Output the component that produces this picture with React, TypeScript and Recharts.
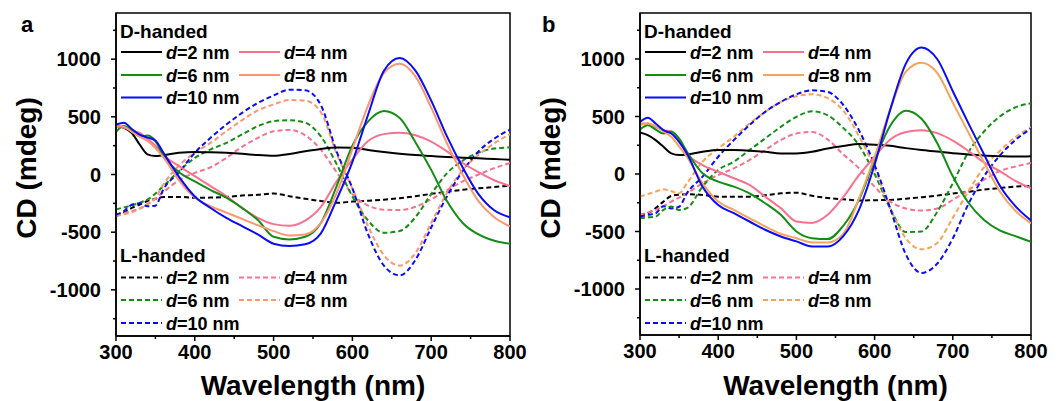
import React from 'react';
import { LineChart, Line, XAxis, YAxis, ReferenceArea } from 'recharts';

const FONT = "'Liberation Sans', Arial, Helvetica, sans-serif";

// wavelengths (nm)
const WAVELENGTHS = [300, 310, 320, 330, 340, 350, 360, 380, 400, 420, 440, 460, 480, 500, 520, 540, 560, 580, 600, 620, 640, 660, 680, 700, 720, 740, 760, 780, 800];

// Panel a, D-handed (solid)
const A_D2 = [420, 405, 360, 260, 175, 160, 167, 188, 196, 193, 188, 180, 168, 162, 178, 202, 222, 235, 232, 212, 195, 180, 168, 160, 152, 146, 140, 134, 128];
const A_D4 = [419, 405, 380, 360, 310, 250, 170, 72, -14, -101, -188, -289, -376, -430, -445, -400, -280, -60, 130, 290, 350, 361, 340, 285, 200, 100, 20, -50, -100];
const A_D6 = [370, 420, 385, 330, 338, 290, 165, 20, -60, -135, -200, -290, -395, -540, -563, -540, -420, -100, 250, 460, 550, 490, 280, 40, -230, -420, -520, -575, -600];
const A_D8 = [419, 415, 370, 330, 290, 230, 150, -50, -200, -275, -330, -385, -440, -491, -529, -520, -420, -160, 220, 600, 880, 960, 850, 580, 270, 0, -230, -370, -450];
const A_D10 = [433, 448, 395, 345, 320, 295, 190, -20, -190, -290, -376, -448, -520, -600, -620, -605, -510, -217, 110, 520, 900, 1010, 900, 640, 330, 60, -170, -310, -370];
// Panel a, L-handed (dashed)
const A_L2 = [-361, -330, -290, -260, -230, -210, -196, -194, -202, -200, -194, -182, -176, -165, -188, -210, -230, -245, -235, -228, -218, -205, -188, -168, -150, -133, -120, -108, -97];
const A_L4 = [-347, -335, -318, -295, -260, -210, -153, -49, 14, 63, 144, 240, 318, 375, 386, 340, 215, 20, -170, -270, -305, -308, -280, -215, -135, -60, 0, 55, 100];
const A_L6 = [-303, -285, -269, -245, -217, -165, -101, 29, 144, 217, 274, 347, 419, 462, 471, 450, 330, 90, -190, -400, -505, -490, -370, -170, 10, 120, 190, 225, 235];
const A_L8 = [-361, -345, -327, -295, -254, -202, -87, 78, 188, 274, 375, 471, 555, 607, 645, 640, 540, 180, -120, -450, -700, -790, -680, -420, -160, 40, 170, 270, 350];
const A_L10 = [-347, -318, -262, -250, -275, -270, -130, 20, 188, 318, 433, 534, 621, 685, 735, 730, 600, 200, -120, -520, -790, -875, -740, -460, -190, 30, 200, 310, 390];

// Panel b, D-handed (solid)
const B_D2 = [362, 338, 295, 237, 179, 165, 170, 193, 208, 208, 202, 193, 179, 179, 193, 222, 243, 260, 255, 245, 225, 208, 195, 180, 170, 160, 155, 152, 155];
const B_D4 = [439, 439, 410, 381, 367, 295, 179, 78, 20, -37, -95, -197, -297, -413, -425, -355, -200, -10, 150, 300, 365, 380, 355, 290, 200, 100, 25, -60, -124];
const B_D6 = [387, 425, 387, 352, 370, 309, 194, 6, -66, -110, -168, -254, -355, -500, -558, -566, -450, -225, 120, 420, 550, 480, 270, -20, -250, -400, -490, -540, -590];
const B_D8 = [425, 439, 416, 370, 324, 240, 150, -81, -240, -312, -384, -456, -520, -558, -595, -595, -520, -215, 150, 560, 890, 968, 880, 620, 360, 100, -150, -320, -430];
const B_D10 = [454, 490, 439, 381, 352, 280, 179, -110, -269, -341, -413, -485, -543, -586, -630, -630, -540, -312, 80, 560, 960, 1100, 1000, 720, 440, 170, -100, -280, -405];
// Panel b, L-handed (dashed)
const B_L2 = [-355, -341, -297, -240, -191, -180, -176, -182, -197, -198, -197, -185, -168, -162, -190, -208, -220, -230, -228, -225, -215, -202, -188, -170, -155, -135, -122, -110, -105];
const B_L4 = [-355, -335, -312, -280, -240, -205, -168, -81, -9, 49, 121, 208, 295, 352, 365, 300, 170, 50, -110, -240, -300, -318, -300, -225, -140, -50, 25, 65, 95];
const B_L6 = [-384, -377, -370, -312, -283, -312, -297, -110, 35, 107, 208, 309, 410, 497, 545, 510, 400, 250, 0, -300, -505, -500, -330, -80, 190, 370, 500, 580, 615];
const B_L8 = [-197, -175, -153, -133, -150, -168, -81, 107, 222, 324, 439, 540, 627, 676, 693, 660, 550, 330, 50, -300, -560, -655, -600, -380, -150, 60, 200, 320, 405];
const B_L10 = [-370, -355, -341, -280, -300, -285, -168, -23, 150, 295, 425, 540, 627, 693, 728, 714, 600, 380, 80, -300, -700, -860, -780, -560, -260, -20, 160, 295, 395];

const X_TICKS = [300, 350, 400, 450, 500, 550, 600, 650, 700, 750, 800];
const Y_TICKS = [-1250, -1000, -750, -500, -250, 0, 250, 500, 750, 1000, 1250];
const D_LABELS = ['2', '4', '6', '8', '10'];

const A_COLORS = ['#000000', '#F7728F', '#138D13', '#FA9670', '#0B0BF5'];
const B_COLORS = ['#000000', '#F7728F', '#138D13', '#F5A35E', '#0B0BF5'];

const DASH = '5 3';

function buildRows(d: number[][], l: number[][]) {
  return WAVELENGTHS.map((w, i) => {
    const row: Record<string, number> = { w };
    D_LABELS.forEach((lab, k) => {
      row['D' + lab] = d[k][i];
      row['L' + lab] = l[k][i];
    });
    return row;
  });
}

const ROWS_A = buildRows([A_D2, A_D4, A_D6, A_D8, A_D10], [A_L2, A_L4, A_L6, A_L8, A_L10]);
const ROWS_B = buildRows([B_D2, B_D4, B_D6, B_D8, B_D10], [B_L2, B_L4, B_L6, B_L8, B_L10]);

function XTick(props: any) {
  const { x, y, payload } = props;
  const v = payload.value;
  const major = v % 100 === 0;
  return (
    <g>
      <line x1={x} x2={x} y1={y} y2={y + (major ? 5 : 3)} stroke="#000" strokeWidth={1.5} />
      {major && (
        <text x={x} y={y + 23} textAnchor="middle" fontSize={20} fontWeight="bold" fontFamily={FONT} fill="#000">
          {v}
        </text>
      )}
    </g>
  );
}

function YTick(props: any) {
  const { x, y, payload } = props;
  const v = payload.value;
  const major = v % 500 === 0;
  return (
    <g>
      <line x1={x} x2={x - (major ? 5 : 3)} y1={y} y2={y} stroke="#000" strokeWidth={1.5} />
      {major && (
        <text x={x - 15} y={y + 7} textAnchor="end" fontSize={20} fontWeight="bold" fontFamily={FONT} fill="#000">
          {v}
        </text>
      )}
    </g>
  );
}

function Panel(props: { rows: any[]; colors: string[]; left: number; width: number; mLeft: number; mRight: number; mBottom: number }) {
  const { rows, colors, left, width, mLeft, mRight, mBottom } = props;
  return (
    <div style={{ position: 'absolute', left, top: 0 }}>
      <LineChart width={width} height={401} data={rows} margin={{ top: 13, right: mRight, bottom: mBottom, left: mLeft }}>
        <XAxis
          dataKey="w"
          type="number"
          domain={[300, 800]}
          ticks={X_TICKS}
          interval={0}
          tickSize={0}
          tickMargin={0}
          tickLine={false}
          tick={(p: any) => <XTick {...p} />}
          axisLine={{ stroke: '#000', strokeWidth: 1.5 }}
          height={30}
          allowDataOverflow
        />
        <YAxis
          type="number"
          domain={[-1400, 1400]}
          ticks={Y_TICKS}
          interval={0}
          tickSize={0}
          tickMargin={0}
          tickLine={false}
          tick={(p: any) => <YTick {...p} />}
          axisLine={{ stroke: '#000', strokeWidth: 1.5 }}
          width={60}
          allowDataOverflow
        />
        <ReferenceArea x1={300} x2={800} y1={-1400} y2={1400} fill="none" stroke="#000" strokeWidth={1.5} ifOverflow="visible" />
        {D_LABELS.map((lab, k) => (
          <Line
            key={'L' + lab}
            type="monotone"
            dataKey={'L' + lab}
            stroke={colors[k]}
            strokeWidth={2}
            strokeDasharray={DASH}
            dot={false}
            activeDot={false}
            isAnimationActive={false}
          />
        ))}
        {D_LABELS.map((lab, k) => (
          <Line
            key={'D' + lab}
            type="monotone"
            dataKey={'D' + lab}
            stroke={colors[k]}
            strokeWidth={2}
            dot={false}
            activeDot={false}
            isAnimationActive={false}
          />
        ))}
      </LineChart>
    </div>
  );
}

function LegendBlock(props: { left: number; title: string; titleY: number; rowsY: number[]; dashed: boolean; colors: string[] }) {
  const { left, title, titleY, rowsY, dashed, colors } = props;
  const cells = D_LABELS.map((lab, k) => ({ lab, color: colors[k], col: k % 2, row: Math.floor(k / 2) }));
  return (
    <g>
      <text x={left + 4} y={titleY} fontSize={19} fontWeight="bold" fontFamily={FONT} fill="#000">
        {title}
      </text>
      {cells.map((c) => {
        const lx = left + (c.col === 0 ? 5 : 123);
        const ty = rowsY[c.row];
        return (
          <g key={c.lab}>
            <line x1={lx} x2={lx + 41} y1={ty} y2={ty} stroke={c.color} strokeWidth={2} strokeDasharray={dashed ? DASH : undefined} />
            <text x={lx + 45} y={ty + 6.5} fontSize={18} fontWeight="bold" fontFamily={FONT} fill="#000">
              <tspan fontStyle="italic">d</tspan>={c.lab} nm
            </text>
          </g>
        );
      })}
    </g>
  );
}

export default function App() {
  const D_ROWS = [52, 75, 97.5];
  const L_ROWS = [277.5, 300, 323];
  return (
    <div style={{ position: 'absolute', left: 0, top: 0, width: 1064, height: 401, background: '#fff', overflow: 'hidden' }}>
      <Panel rows={ROWS_A} colors={A_COLORS} left={0} width={530} mLeft={56} mRight={20} mBottom={35} />
      <Panel rows={ROWS_B} colors={B_COLORS} left={530} width={534} mLeft={50} mRight={33} mBottom={36} />
      <svg width={1064} height={401} style={{ position: 'absolute', left: 0, top: 0, pointerEvents: 'none' }} fontFamily={FONT}>
        <text x={21} y={32} fontSize={22} fontWeight="bold" fill="#000">a</text>
        <text x={542} y={32} fontSize={22} fontWeight="bold" fill="#000">b</text>
        <text transform="translate(36,168) rotate(-90)" textAnchor="middle" fontSize={28} fontWeight="bold" fill="#000">CD (mdeg)</text>
        <text transform="translate(560,168) rotate(-90)" textAnchor="middle" fontSize={28} fontWeight="bold" fill="#000">CD (mdeg)</text>
        <text x={313} y={395} textAnchor="middle" fontSize={28} fontWeight="bold" fill="#000">Wavelength (nm)</text>
        <text x={835.5} y={395} textAnchor="middle" fontSize={28} fontWeight="bold" fill="#000">Wavelength (nm)</text>
        <LegendBlock left={116} title="D-handed" titleY={37.5} rowsY={D_ROWS} dashed={false} colors={A_COLORS} />
        <LegendBlock left={116} title="L-handed" titleY={261.5} rowsY={L_ROWS} dashed={true} colors={A_COLORS} />
        <LegendBlock left={640} title="D-handed" titleY={37.5} rowsY={D_ROWS} dashed={false} colors={B_COLORS} />
        <LegendBlock left={640} title="L-handed" titleY={261.5} rowsY={L_ROWS} dashed={true} colors={B_COLORS} />
      </svg>
    </div>
  );
}
